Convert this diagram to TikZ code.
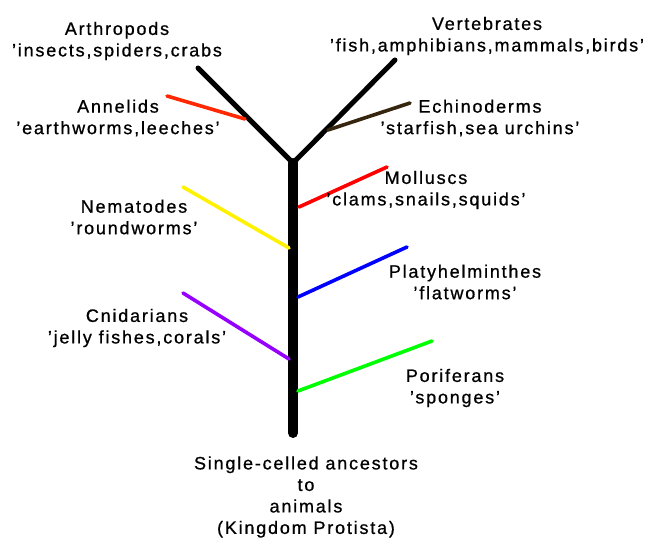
\documentclass[tikz,border=0pt]{standalone}
\usepackage{fontspec}
\setmainfont[LetterSpace=10,FakeBold=0.8]{Liberation Sans}

\definecolor{annelidred}{RGB}{255,40,0}
\definecolor{echinobrown}{RGB}{55,38,15}
\definecolor{cnidviolet}{RGB}{150,0,255}

\tikzset{
    taxon/.style={align=center,inner sep=0pt,
        font=\fontsize{18}{21.5}\selectfont},
    twig/.style={line width=3.6pt,line cap=round}
}

\begin{document}
\begin{tikzpicture}[x=1pt,y=-1pt]
        \useasboundingbox (0,0) rectangle (654,543);

        % Ствол и развилка.
        \coordinate (fork) at (293,163);
        \coordinate (root) at (293,433);
        \coordinate (arthtip) at (198,68);
        \coordinate (verttip) at (395,60);
        \draw[line width=10pt,line cap=round] (root) -- (fork);
        \draw[line width=5pt,line cap=round] (arthtip) -- (fork) -- (verttip);

        % Боковые ветви.
        \draw[twig,annelidred] (167,96) -- (245,119);
        \draw[twig,echinobrown] (328,130) -- (410,103);
        \draw[twig,red] (299,207) -- (387,167);
        \draw[twig,yellow] (183,187) -- (289,248);
        \draw[twig,blue] (298,297) -- (407,247);
        \draw[twig,cnidviolet] (183,293) -- (289,359);
        \draw[twig,green] (298,391) -- (432,341);

        % Подписи.
        \node[taxon] (arthropods) at (117,41) {Arthropods\\'insects,spiders,crabs};
        \node[taxon] (annelids) at (118,118) {Annelids\\'earthworms,leeches'};
        \node[taxon] (vertebrates) at (487,36) {Vertebrates\\'fish,amphibians,mammals,birds'};
        \node[taxon] (echinoderms) at (480,118) {Echinoderms\\'starfish,sea urchins'};
        \node[taxon] (molluscs) at (426,190) {Molluscs\\'clams,snails,squids'};
        \node[taxon] (nematodes) at (134,217) {Nematodes\\'roundworms'};
        \node[taxon] (platyhelminthes) at (465,282) {Platyhelminthes\\'flatworms'};
        \node[taxon] (cnidarians) at (137,328) {Cnidarians\\'jelly fishes,corals'};
        \node[taxon] (poriferans) at (455,388) {Poriferans\\'sponges'};
        \node[taxon] (ancestors) at (306,497)
            {Single-celled ancestors\\to\\animals\\(Kingdom Protista)};
    \end{tikzpicture}
\end{document}
